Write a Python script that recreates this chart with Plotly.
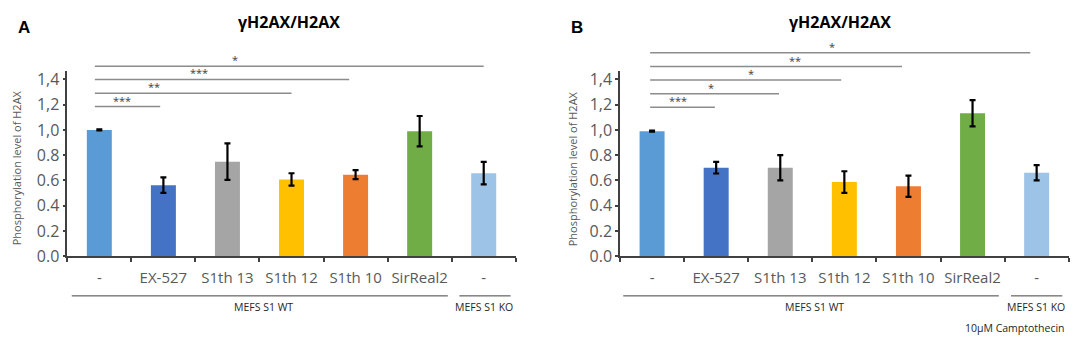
import plotly.graph_objects as go

# ---------------- data ----------------
categories = ["-", "EX-527", "S1th 13", "S1th 12", "S1th 10", "SirReal2", "-"]
bar_colors = ["#5B9BD5", "#4472C4", "#A5A5A5", "#FFC000", "#ED7D31", "#70AD47", "#9DC3E6"]

values_A = [1.00, 0.563, 0.749, 0.608, 0.646, 0.99, 0.658]
errors_A = [0.004, 0.062, 0.145, 0.049, 0.035, 0.12, 0.089]

values_B = [0.99, 0.701, 0.70, 0.587, 0.554, 1.132, 0.661]
errors_B = [0.004, 0.046, 0.10, 0.086, 0.084, 0.104, 0.06]

y_tickvals = [0.0, 0.2, 0.4, 0.6, 0.8, 1.0, 1.2, 1.4]
y_ticktext = ["0.0", "0.2", "0.4", "0.6", "0.8", "1,0", "1,2", "1,4"]

# significance brackets: (start index, end index, level, star x, label)
sig_A_start = [-0.07, -0.07, -0.07, -0.07]
sig_A_end = [0.95, 3.0, 3.9, 6.0]
sig_A_level = [1.185, 1.29, 1.40, 1.503]
sig_A_starx = [0.36, 0.85, 1.55, 2.11]
sig_A_label = ["***", "**", "***", "*"]

sig_B_start = [-0.03, -0.03, -0.03, -0.03, -0.03]
sig_B_end = [0.98, 1.98, 2.95, 3.9, 5.9]
sig_B_level = [1.18, 1.286, 1.395, 1.501, 1.61]
sig_B_starx = [0.41, 0.92, 1.55, 2.23, 2.81]
sig_B_label = ["***", "*", "*", "**", "*"]

# group labels
groups_A = [("MEFS S1 WT", -0.43, 5.44, 2.56), ("MEFS S1 KO", 5.62, 6.42, 6.01)]
groups_B = [("MEFS S1 WT", -0.45, 5.41, 2.54), ("MEFS S1 KO", 5.60, 6.40, 5.99)]

title_text = "γH2AX/H2AX"
y_title = "Phosphorylation level of H2AX"
footnote = "10µM Camptothecin"

# ---------------- layout constants ----------------
W, H = 1084, 343
Y_MAX = 1.466
YDOM = [0.2545, 0.8175]
XDOM_A = [0.0547, 0.4684]
XDOM_B = [0.5646, 0.9785]
FONT = "Open Sans"
AX_COLOR = "#404040"
TXT_COLOR = "#595959"


def ypaper(v):
    return YDOM[0] + v / Y_MAX * (YDOM[1] - YDOM[0])


def px_to_paper_y(p):
    return (H - p) / H


fig = go.Figure()
xs = list(range(len(categories)))

for vals, errs, xa, ya in [(values_A, errors_A, "x", "y"), (values_B, errors_B, "x2", "y2")]:
    fig.add_trace(go.Bar(
        x=xs, y=vals, width=0.39,
        marker=dict(color=bar_colors, line=dict(width=0)),
        error_y=dict(type="data", array=errs, visible=True, color="#000000",
                     thickness=2.2, width=3),
        xaxis=xa, yaxis=ya, showlegend=False,
    ))

xaxis_common = dict(
    range=[-0.5, 6.5], tickmode="array", tickvals=xs, ticktext=categories,
    showline=True, linecolor=AX_COLOR, linewidth=1.5, showgrid=False, zeroline=False,
    ticks="outside", ticklen=7, tickcolor="rgba(0,0,0,0)",
    tickfont=dict(family=FONT, size=15, color=TXT_COLOR),
    minor=dict(tickmode="array", tickvals=[i - 0.5 for i in range(len(categories) + 1)],
               ticks="outside", ticklen=4, tickwidth=1.5, tickcolor=AX_COLOR),
    fixedrange=True,
)
yaxis_common = dict(
    range=[0, Y_MAX], domain=YDOM, tickmode="array", tickvals=y_tickvals, ticktext=y_ticktext,
    showline=True, linecolor=AX_COLOR, linewidth=1.5, showgrid=False, zeroline=False,
    ticks="outside", ticklen=3, tickwidth=1.5, tickcolor=AX_COLOR,
    tickfont=dict(family=FONT, size=16, color=TXT_COLOR),
    fixedrange=True,
)

fig.update_layout(
    width=W, height=H,
    margin=dict(l=0, r=0, t=0, b=0),
    plot_bgcolor="white", paper_bgcolor="white",
    bargap=0.6,
    xaxis=dict(domain=XDOM_A, anchor="y", **xaxis_common),
    yaxis=dict(anchor="x", **yaxis_common),
    xaxis2=dict(domain=XDOM_B, anchor="y2", **xaxis_common),
    yaxis2=dict(anchor="x2", **yaxis_common),
)

shapes = []
annotations = []


def ann(**kw):
    kw.setdefault("showarrow", False)
    kw.setdefault("xanchor", "center")
    kw.setdefault("yanchor", "middle")
    annotations.append(kw)


panels = [
    ("x", sig_A_start, sig_A_end, sig_A_level, sig_A_starx, sig_A_label, groups_A, "A", 15.7, 280.7, 8),
    ("x2", sig_B_start, sig_B_end, sig_B_level, sig_B_starx, sig_B_label, groups_B, "B", 569, 832, 564),
]

for xa, s0, s1, lev, sx, lab, groups, letter, letter_px, title_px, ytitle_px in panels:
    for a, b, l, tx, t in zip(s0, s1, lev, sx, lab):
        shapes.append(dict(type="line", xref=xa, yref="paper", x0=a, x1=b,
                           y0=ypaper(l), y1=ypaper(l),
                           line=dict(color="#8c8c8c", width=1.5)))
        ann(xref=xa, yref="paper", x=tx, y=ypaper(l), text=t,
            yanchor="bottom", yshift=-3,
            font=dict(family=FONT, size=11, color="#404040"))
    for name, g0, g1, gx in groups:
        shapes.append(dict(type="line", xref=xa, yref="paper", x0=g0, x1=g1,
                           y0=px_to_paper_y(297), y1=px_to_paper_y(297),
                           line=dict(color="#404040", width=1)))
        ann(xref=xa, yref="paper", x=gx, y=px_to_paper_y(309), text=name,
            font=dict(family=FONT, size=10.5, color="#262626"))
    ann(xref="paper", yref="paper", x=letter_px / W, y=px_to_paper_y(17),
        text="<b>%s</b>" % letter,
        font=dict(family="Liberation Sans", size=17, color="#000000"))
    ann(xref="paper", yref="paper", x=title_px / W, y=px_to_paper_y(11),
        text="<b>%s</b>" % title_text,
        font=dict(family=FONT, size=16, color="#000000"))
    ann(xref="paper", yref="paper", x=ytitle_px / W, y=px_to_paper_y(164),
        text=y_title, textangle=-90,
        font=dict(family=FONT, size=11, color=TXT_COLOR))

ann(xref="x2", yref="paper", x=5.67, y=px_to_paper_y(331), text=footnote,
    font=dict(family=FONT, size=10.5, color="#262626"))

fig.update_layout(shapes=shapes, annotations=annotations)

fig.write_html("out.html")
